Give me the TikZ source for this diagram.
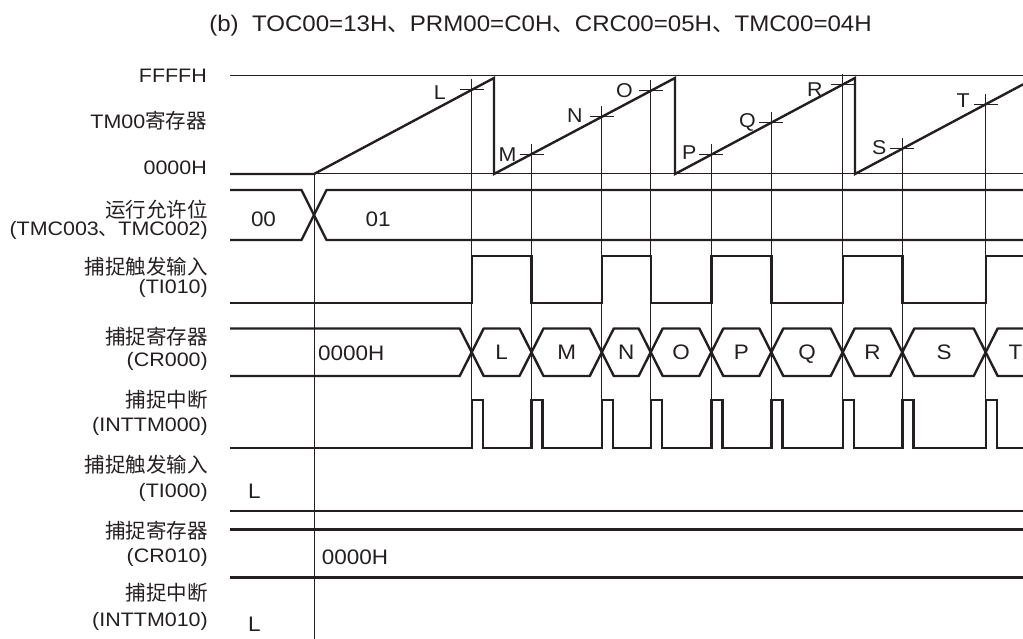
\documentclass[tikz,border=0pt]{standalone}
\usepackage{fontspec}
\setmainfont{Liberation Sans}[FakeStretch=1.07]
\newfontfamily\lab{Liberation Sans}[FakeStretch=1.1]
\newfontfamily\cjk{Noto Sans CJK SC}
\newcommand{\cjkcomma}{\smash{\cjk 、}}
\definecolor{ink}{HTML}{231F20}
\tikzset{
  sig/.style={line width=2.4pt, draw=ink, line join=miter},
  bus/.style={line width=2.4pt, draw=ink, line join=round},
  hair/.style={line width=1pt, draw=ink},
  lbl/.style={anchor=base east, inner sep=0pt, text=ink, font=\lab\fontsize{19.5}{24}\selectfont},
  cj/.style={anchor=base east, inner sep=0pt, text=ink, font=\cjk\fontsize{20.5}{24}\selectfont},
  val/.style={anchor=base, inner sep=0pt, text=ink, font=\fontsize{21}{24}\selectfont},
  tk/.style={anchor=base east, inner sep=0pt, text=ink, font=\fontsize{20}{24}\selectfont},
}
\begin{document}
\begin{tikzpicture}[x=1pt,y=-1pt]
\useasboundingbox (0,0) rectangle (1023,639);
% title
\node[val, font=\fontsize{22.5}{24}\selectfont] (title) at (540.5,31.7) {(b)\ \ TOC00=13H\cjkcomma PRM00=C0H\cjkcomma CRC00=05H\cjkcomma TMC00=04H};
% left labels
\node[lbl] (lffff) at (207,83) {FFFFH};
\node[lbl] (ltm) at (207,129) {TM00{\cjk\fontsize{20.5}{24}\selectfont 寄存器}};
\node[lbl] (lzero) at (207,174.5) {0000H};
\node[cj]  (l1a) at (208,217.5) {运行允许位};
\node[lbl] (l1b) at (208,236) {(TMC003\cjkcomma TMC002)};
\node[cj]  (l2a) at (208,274) {捕捉触发输入};
\node[lbl] (l2b) at (208,294) {(TI010)};
\node[cj]  (l3a) at (208,344) {捕捉寄存器};
\node[lbl] (l3b) at (208,366) {(CR000)};
\node[cj]  (l4a) at (208,407.5) {捕捉中断};
\node[lbl] (l4b) at (208,431) {(INTTM000)};
\node[cj]  (l5a) at (208,472.5) {捕捉触发输入};
\node[lbl] (l5b) at (208,497.6) {(TI000)};
\node[cj]  (l6a) at (208,538) {捕捉寄存器};
\node[lbl] (l6b) at (208,562.6) {(CR010)};
\node[cj]  (l7a) at (208,600.8) {捕捉中断};
\node[lbl] (l7b) at (208,626) {(INTTM010)};
% counter reference lines
\draw[hair] (230,76) -- (1023,76);
\draw[hair] (314,174) -- (1023,174);
% sawtooth
\draw[sig] (230,174) -- (314,174) -- (494,78) -- (494,174) -- (675,78) -- (675,174) -- (855,78) -- (855,174) -- (1023,84.4);
% start line
\draw[hair] (314,174) -- (314,639);
% capture ticks and lines
\foreach \x/\y/\n/\lx/\ly in {471.7/89.9/L/446/92, 531.5/154.1/M/516.7/154, 601.8/116.8/N/582.7/115.5, 650.7/90.9/O/633/90, 711.3/154.6/P/696.7/152.5, 771.3/122.6/Q/756/120.5, 842.7/84.6/R/822.7/89, 902.3/148.8/S/886.7/147, 985.7/104.3/T/970/100}{
  \draw[hair] (\x-12,\y) -- (\x+12,\y);
  \draw[hair] (\x,\y-10.5) -- (\x,448);
  \node[tk] (t\n) at (\lx,\ly+7.2) {\n};
}
% TMC bus
\draw[bus] (230,190) -- (301.5,190) -- (326.5,240) -- (1023,240);
\draw[bus] (230,240) -- (301.5,240) -- (326.5,190) -- (1023,190);
\node[val] (v00) at (263.5,226.7) {00};
\node[val] (v01) at (378,226.7) {01};
% TI010
\draw[sig] (230,303) -- (471.7,303) -- (471.7,256) -- (531.5,256) -- (531.5,303) -- (601.8,303) -- (601.8,256) -- (650.7,256) -- (650.7,303) -- (711.3,303) -- (711.3,256) -- (771.3,256) -- (771.3,303) -- (842.7,303) -- (842.7,256) -- (902.3,256) -- (902.3,303) -- (985.7,303) -- (985.7,256) -- (1023,256);
% CR000 bus
\draw[bus] (230,328.5) -- (459.7,328.5) -- (471.7,352.25) -- (459.7,376) -- (230,376);
\foreach \a/\b/\n in {471.7/531.5/L, 531.5/601.8/M, 601.8/650.7/N, 650.7/711.3/O, 711.3/771.3/P, 771.3/842.7/Q, 842.7/902.3/R, 902.3/985.7/S}{
  \draw[bus] (\a,352.25) -- (\a+12,328.5) -- (\b-12,328.5) -- (\b,352.25) -- (\b-12,376) -- (\a+12,376) -- cycle;
  \node[val] (h\n) at ({(\a+\b)/2},359.7) {\n};
}
\draw[bus] (1023,328.5) -- (997.7,328.5) -- (985.7,352.25) -- (997.7,376) -- (1023,376);
\node[val, anchor=base west] (hT) at (1008.5,359.7) {T};
\node[val, anchor=base west] (v0a) at (318,360.5) {0000H};
% INTTM000
\draw[sig] (230,448) -- (471.7,448) -- (471.7,400) -- (482.7,400) -- (482.7,448)
  -- (531.5,448) -- (531.5,400) -- (542.5,400) -- (542.5,448)
  -- (601.8,448) -- (601.8,400) -- (612.8,400) -- (612.8,448)
  -- (650.7,448) -- (650.7,400) -- (661.7,400) -- (661.7,448)
  -- (711.3,448) -- (711.3,400) -- (722.3,400) -- (722.3,448)
  -- (771.3,448) -- (771.3,400) -- (782.3,400) -- (782.3,448)
  -- (842.7,448) -- (842.7,400) -- (853.7,400) -- (853.7,448)
  -- (902.3,448) -- (902.3,400) -- (913.3,400) -- (913.3,448)
  -- (985.7,448) -- (985.7,400) -- (996.7,400) -- (996.7,448) -- (1023,448);
% TI000
\draw[sig] (230,510.7) -- (1023,510.7);
\node[val, anchor=base west] (vL1) at (248,498) {L};
% CR010
\draw[sig] (230,529.3) -- (1023,529.3);
\draw[sig] (230,577.3) -- (1023,577.3);
\node[val, anchor=base west] (v0b) at (321.7,564) {0000H};
% INTTM010
\node[val, anchor=base west] (vL2) at (248,631.5) {L};
\end{tikzpicture}
\end{document}
